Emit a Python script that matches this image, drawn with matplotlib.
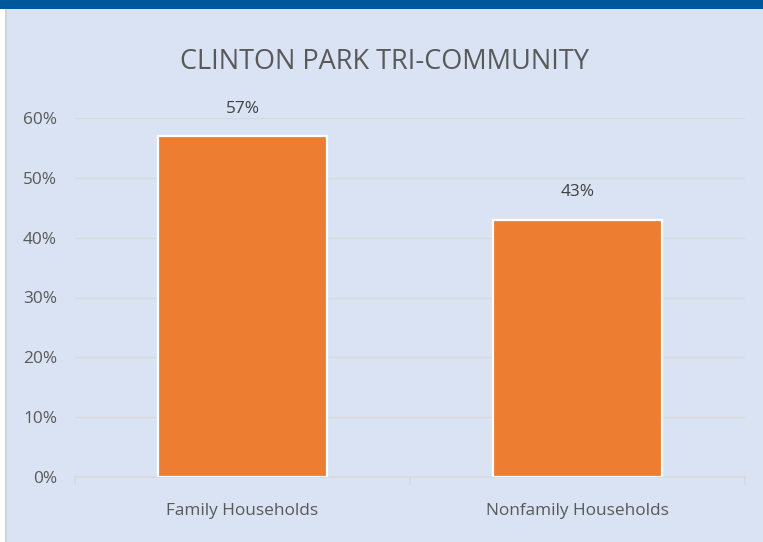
import numpy as np
import matplotlib.pyplot as plt
from matplotlib.patches import Rectangle
from matplotlib.ticker import PercentFormatter, FixedLocator

plt.rcParams['font.family'] = ['Open Sans', 'DejaVu Sans']

# --- Daten ---
categories = ["Family Households", "Nonfamily Households"]
shares = [0.57, 0.43]
bar_labels = ["57%", "43%"]
title = "CLINTON PARK TRI-COMMUNITY"

BG = "#DAE3F3"
ORANGE = "#ED7D31"
TEXT = "#595959"
GRID = "#D9D9D9"

fig = plt.figure(figsize=(7.63, 5.42), dpi=100)
fig.patch.set_facecolor("white")

# Hintergrund, Rahmen und blauer Balken oben
fig.patches.append(Rectangle((6 / 763, 0), 1, 1 - 9 / 542, transform=fig.transFigure,
                             facecolor=BG, edgecolor="none", zorder=-2))
fig.patches.append(Rectangle((5 / 763, 0), 2 / 763, 1 - 9 / 542, transform=fig.transFigure,
                             facecolor="#CDD3DC", edgecolor="none", zorder=-1))
fig.patches.append(Rectangle((0, 1 - 9 / 542), 1, 9 / 542, transform=fig.transFigure,
                             facecolor="#00589C", edgecolor="none", zorder=-1))

ax = fig.add_axes([75 / 763, 1 - 477 / 542, 670 / 763, 359 / 542])
ax.set_zorder(5)
ax.set_facecolor("none")

x = np.arange(len(categories))
bars = ax.bar(x, shares, width=0.505, color=ORANGE, edgecolor="white", linewidth=1.6, zorder=3)

ax.set_xlim(-0.5, len(categories) - 0.5)
ax.set_ylim(0, 0.6)
ax.yaxis.set_major_locator(FixedLocator(np.arange(0, 0.61, 0.1)))
ax.yaxis.set_major_formatter(PercentFormatter(1.0, decimals=0))
ax.grid(axis="y", color=GRID, lw=1.0, zorder=0)
ax.set_axisbelow(True)

for s in ["top", "right", "left"]:
    ax.spines[s].set_visible(False)
ax.spines["bottom"].set_color(GRID)
ax.spines["bottom"].set_linewidth(1.2)

ax.set_xticks(x)
ax.set_xticklabels(categories)
ax.set_xticks([-0.5, 0.5, 1.5], minor=True)
ax.tick_params(axis="x", which="major", length=0, pad=19, labelsize=12.4, labelcolor=TEXT)
ax.tick_params(axis="x", which="minor", length=6, color=GRID, width=1.2)
ax.tick_params(axis="y", length=0, pad=13, labelsize=12.4, labelcolor=TEXT)

# Werte über den Balken
for xi, val, lab in zip(x, shares, bar_labels):
    ax.annotate(lab, (xi, val), xytext=(0, 14), textcoords="offset points",
                ha="center", va="bottom", fontsize=12.4, color="#404040")

fig.text(0.5 + 3 / 763, 1 - 62 / 542, title, ha="center", va="center",
         fontsize=19.5, color=TEXT)

fig.savefig("out.png", dpi=100)
plt.close(fig)
